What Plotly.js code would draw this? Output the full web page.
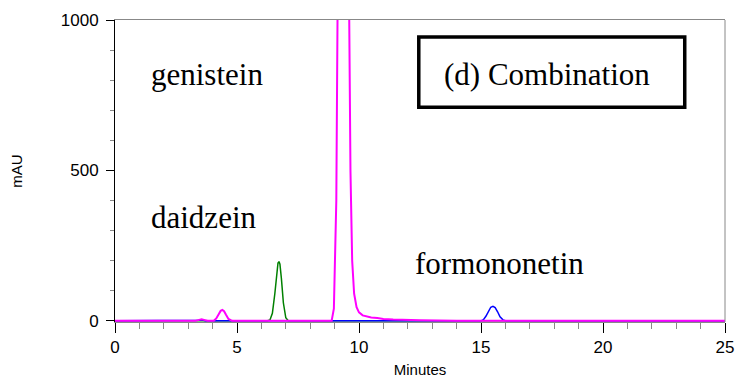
<!DOCTYPE html>
<html>
<head>
<meta charset="utf-8">
<script src="https://cdn.plot.ly/plotly-3.0.1.min.js"></script>
<style>html,body{margin:0;padding:0;background:#fff;}#chart{width:739px;height:383px;}</style>
</head>
<body>
<div id="chart"></div>
<script>
// Chromatogram (d) Combination (minutes, mAU)
const pinkTime = [0, 3.3, 3.45, 3.55, 3.65, 3.8, 4.05, 4.15, 4.25, 4.33, 4.40, 4.47, 4.55, 4.65, 4.8, 8.88, 8.97, 9.07, 9.16, 9.25, 9.35, 9.45, 9.55, 9.65, 9.72, 9.8, 9.9, 10.0, 10.15, 10.3, 10.5, 10.75, 11.0, 11.4, 11.8, 12.5, 14.0, 25];
const pinkValue = [0, 0, 3, 5, 3, 0, 0, 8, 22, 33, 36, 32, 20, 6, 0, 0, 40, 400, 1500, 2600, 3000, 2600, 1500, 500, 200, 90, 45, 28, 18, 14, 11, 9, 6, 4, 3, 1.5, 0.5, 0];

const greenTime = [0, 6.25, 6.35, 6.45, 6.55, 6.62, 6.68, 6.72, 6.76, 6.82, 6.9, 7.0, 7.1, 25];
const greenValue = [0, 0, 3, 25, 90, 155, 192, 197, 188, 140, 60, 10, 0, 0];

const blueTime = [0, 3.4, 3.5, 3.55, 3.6, 3.7, 15.0, 15.1, 15.2, 15.3, 15.4, 15.49, 15.58, 15.68, 15.78, 15.9, 16.0, 25];
const blueValue = [0, 0, 2, 3, 2, 0, 0, 4, 15, 32, 45, 48, 44, 30, 13, 3, 0, 0];

const xTicks = [0, 5, 10, 15, 20, 25];
const yTicks = [0, 500, 1000];

const labels = [
  {text: 'genistein', x: 1.4, y: 820},
  {text: 'daidzein', x: 1.4, y: 345},
  {text: 'formononetin', x: 12.2, y: 190}
];
const boxLabel = '(d) Combination';

const traces = [
  {x: greenTime, y: greenValue, type: 'scatter', mode: 'lines', line: {color: '#008000', width: 1.5}, hoverinfo: 'skip'},
  {x: blueTime, y: blueValue, type: 'scatter', mode: 'lines', line: {color: '#0000FF', width: 1.5}, hoverinfo: 'skip'},
  {x: pinkTime, y: pinkValue, type: 'scatter', mode: 'lines', line: {color: '#FF00FF', width: 2}, hoverinfo: 'skip'}
];

const serif = '"Liberation Serif", "Times New Roman", serif';
const sans = '"Liberation Sans", Arial, sans-serif';

const annotations = labels.map(l => ({
  text: l.text, x: l.x, y: l.y, xref: 'x', yref: 'y',
  xanchor: 'left', yanchor: 'middle', showarrow: false,
  font: {family: serif, size: 31, color: '#000'}
}));
annotations.push({
  text: boxLabel, x: 0.536, y: 0.82, xref: 'paper', yref: 'paper',
  xanchor: 'left', yanchor: 'middle', showarrow: false,
  font: {family: serif, size: 31, color: '#000'}
});

const layout = {
  width: 739, height: 383,
  margin: {l: 115, r: 14, t: 20, b: 61},
  paper_bgcolor: '#fff', plot_bgcolor: '#fff',
  showlegend: false,
  xaxis: {
    range: [0, 25], tickvals: xTicks, ticks: 'outside', ticklen: 10, tickcolor: '#000', tickwidth: 1,
    minor: {dtick: 1, ticks: 'outside', ticklen: 6, tickcolor: '#888', tickwidth: 1},
    showline: true, linecolor: '#888', linewidth: 1, mirror: true,
    showgrid: false, zeroline: false,
    tickfont: {family: sans, size: 17, color: '#000'},
    title: {text: 'Minutes', font: {family: sans, size: 15, color: '#000'}, standoff: 8}
  },
  yaxis: {
    range: [-4, 1000], tickvals: yTicks, ticks: 'outside', ticklen: 8, tickcolor: '#000', tickwidth: 1,
    minor: {dtick: 100, ticks: 'outside', ticklen: 4, tickcolor: '#888', tickwidth: 1},
    showline: true, linecolor: '#000', linewidth: 1,
    showgrid: false, zeroline: false,
    tickfont: {family: sans, size: 17, color: '#000'},
    ticklabelstandoff: 4,
    title: {text: 'mAU', font: {family: sans, size: 15, color: '#000'}, standoff: 34}
  },
  shapes: [
    {type: 'line', xref: 'paper', yref: 'paper', x0: 1, x1: 1, y0: 0, y1: 1, line: {color: '#888', width: 1}},
    {type: 'rect', xref: 'paper', yref: 'paper', x0: 0.498, x1: 0.934, y0: 0.711, y1: 0.944, line: {color: '#000', width: 3.5}, fillcolor: 'rgba(0,0,0,0)'}
  ],
  annotations: annotations
};

Plotly.newPlot('chart', traces, layout, {staticPlot: true, displayModeBar: false});
</script>
</body>
</html>
